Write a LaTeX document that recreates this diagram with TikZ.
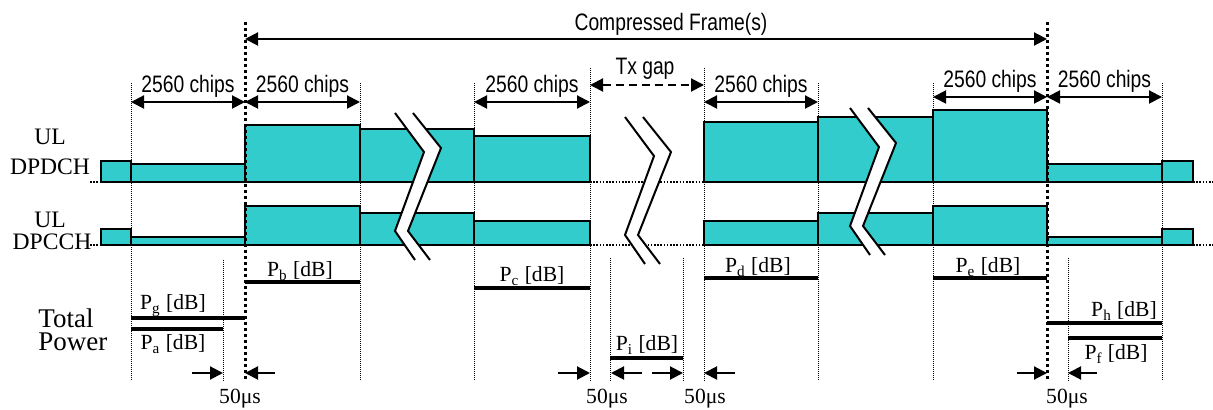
\documentclass[tikz,border=0pt]{standalone}
\usepackage{fontspec}
\setmainfont{Liberation Serif}
\newfontfamily\narrowsans[FakeStretch=0.81]{Liberation Sans}
\usetikzlibrary{arrows.meta}
\definecolor{chan}{HTML}{33CCCC}

% white break through both channel rows
\newcommand{\gapmark}[1]{%
  \begin{scope}[shift={(#1)}]
    \fill[white] (0,0) -- (29,39) -- (0,118) -- (20,147) -- (35,147) -- (13,118) -- (46,35) -- (18,0) -- cycle;
    \draw[brk] (0,0) -- (29,39) -- (0,118) -- (20,147);
    \draw[brk] (18,0) -- (46,35) -- (13,118) -- (35,147);
  \end{scope}}

\begin{document}
\begin{tikzpicture}[x=0.5pt, y=-0.5pt,
    every node/.style={inner sep=0pt},
    box/.style={draw, fill=chan, line width=1pt},
    brk/.style={line width=1pt},
    fine/.style={line width=0.5pt, dash pattern=on 0.5pt off 0.5pt},
    heavy/.style={line width=1.5pt, dash pattern=on 1.5pt off 1.5pt},
    floor/.style={line width=0.8pt, dash pattern=on 0.8pt off 0.8pt},
    dim/.style={line width=1pt, {Triangle[length=6.5pt, width=6.5pt]}-{Triangle[length=6.5pt, width=6.5pt]}},
    onehead/.style={line width=1pt, -{Triangle[length=6.5pt, width=6.5pt]}},
    pow/.style={line width=2pt},
    chips/.style={font=\narrowsans\fontsize{11.9}{14}\selectfont, anchor=base},
    lvl/.style={font=\fontsize{10.8}{13}\selectfont, anchor=base},
    row/.style={font=\fontsize{11.8}{14}\selectfont, anchor=base}]
  \useasboundingbox (0,0) rectangle (1213,410);

  % slot boundaries
  \foreach \x/\ys in {131/83, 360/83, 474/83, 590/68, 704/68, 818/83, 933/83, 1162/83,
                      223/260, 610/258, 683/258, 1068/258}
    \draw[fine] (\x,\ys) -- (\x,381);
  \foreach \y in {182, 245} {
    \draw[floor] (90,\y) -- (101,\y);
    \draw[floor] (590,\y) -- (704,\y);
    \draw[floor] (1193,\y) -- (1213,\y);
  }

  % UL DPDCH
  \foreach \xa/\xb/\h in {101/131/161, 131/245/164, 245/360/125, 360/474/129, 474/590/136,
                          704/818/122, 818/933/117, 933/1047/110, 1047/1162/164, 1162/1193/161}
    \draw[box] (\xa,182) rectangle (\xb,\h);
  % UL DPCCH
  \foreach \xa/\xb/\h in {101/131/229, 131/245/237, 245/360/206, 360/474/213, 474/590/221,
                          704/818/221, 818/933/213, 933/1047/206, 1047/1162/237, 1162/1193/229}
    \draw[box] (\xa,245) rectangle (\xb,\h);

  \gapmark{395,113}
  \gapmark{625,117}
  \gapmark{850,108}

  % frame edges
  \foreach \x in {245, 1047}
    \draw[heavy] (\x,22) -- (\x,380);

  \draw[dim] (245,39) -- (1047,39);
  \node[chips] (frame) at (671,31) {Compressed Frame(s)};

  \foreach \xa/\xb/\yy [count=\i] in {131/245/102, 245/360/102, 474/590/102, 704/818/102,
                                      933/1047/97, 1047/1162/97} {
    \draw[dim] (\xa,\yy) -- (\xb,\yy);
    \node[chips] (chips\i) at ({(\xa+\xb)/2},\yy-9) {2560 chips};
  }
  \draw[dim, dash pattern=on 4pt off 2.5pt] (590,85) -- (704,85);
  \node[chips] (txgap) at (645,75) {Tx gap};

  % total power levels
  \draw[pow] (131,318) -- (245,318);
  \draw[pow] (131,329) -- (223,329);
  \draw[pow] (245,282) -- (360,282);
  \draw[pow] (474,288) -- (590,288);
  \draw[pow] (610,358) -- (683,358);
  \draw[pow] (704,278) -- (818,278);
  \draw[pow] (933,278) -- (1047,278);
  \draw[pow] (1047,323) -- (1162,323);
  \draw[pow] (1068,338) -- (1162,338);
  \node[lvl] (pg) at (173,310) {P\textsubscript{g} [dB]};
  \node[lvl] (pa) at (173,350) {P\textsubscript{a} [dB]};
  \node[lvl] (pb) at (300,277) {P\textsubscript{b} [dB]};
  \node[lvl] (pc) at (532,282) {P\textsubscript{c} [dB]};
  \node[lvl] (pi) at (647,351) {P\textsubscript{i} [dB]};
  \node[lvl] (pd) at (758,273) {P\textsubscript{d} [dB]};
  \node[lvl] (pe) at (988,273) {P\textsubscript{e} [dB]};
  \node[lvl] (ph) at (1124,317) {P\textsubscript{h} [dB]};
  \node[lvl] (pf) at (1116,360) {P\textsubscript{f} [dB]};

  % 50us transients
  \foreach \xa/\xb in {192/223, 275/245, 558/590, 642/611, 652/683, 735/704, 1017/1047, 1097/1068}
    \draw[onehead] (\xa,373) -- (\xb,373);
  \foreach \x [count=\i] in {240, 607, 705, 1067}
    \node[lvl] (us\i) at (\x,403) {50μs};

  % row labels
  \node[row] (ul1) at (50,145) {UL};
  \node[row] (dpdch) at (50,175) {DPDCH};
  \node[row] (ul2) at (50,228) {UL};
  \node[row] (dpcch) at (52,250) {DPCCH};
  \node[row, font=\fontsize{13.5}{11.5}\selectfont, align=left, anchor=base west] (total) at (38,351) {Total\\Power};
\end{tikzpicture}
\end{document}
